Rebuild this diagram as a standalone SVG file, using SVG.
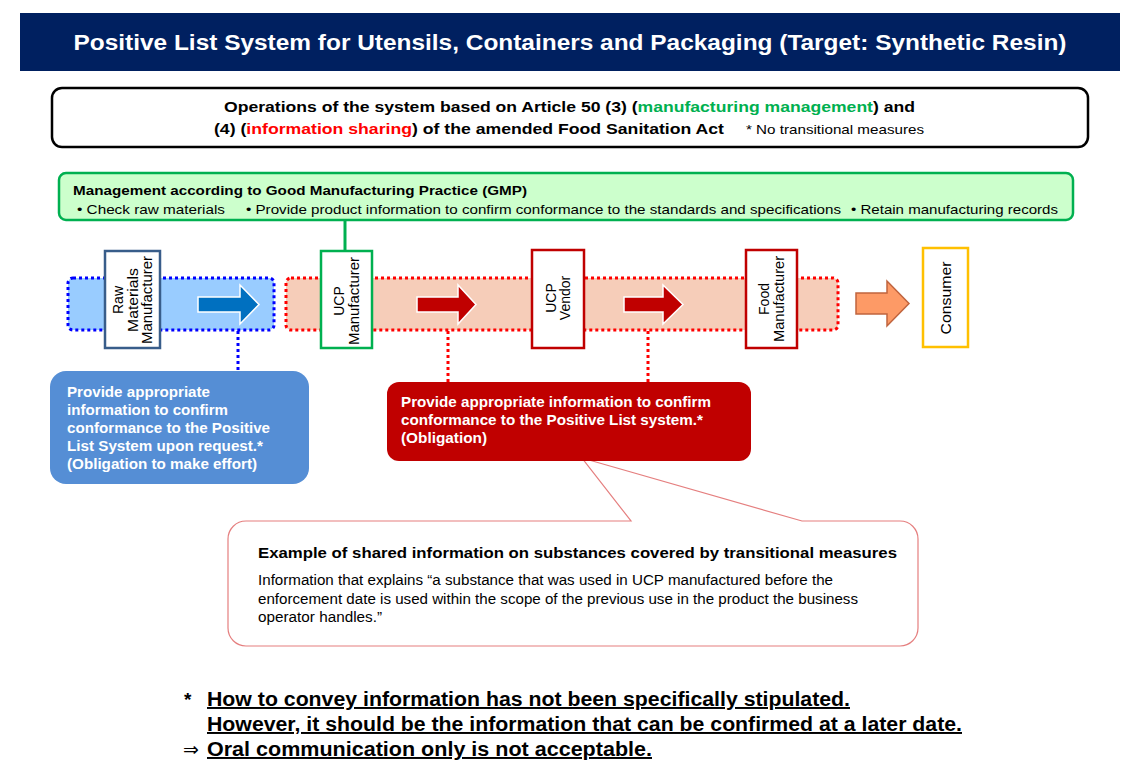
<svg xmlns="http://www.w3.org/2000/svg" width="1123" height="762" viewBox="0 0 1123 762">
<style>
text{font-family:"Liberation Sans",Arial,sans-serif;}
.b{font-weight:bold;}
.band{stroke-width:3;stroke-dasharray:3 3;}
.node{fill:#fff;stroke-width:2.5;}
.vt{font-size:14px;fill:#000;text-anchor:middle;}
.arr{stroke:#fff;stroke-width:1.5;}
.dot{stroke-width:3;stroke-dasharray:3 3;fill:none;}
.wt{fill:#fff;font-weight:bold;font-size:14px;}
.foot{font-weight:bold;font-size:19.5px;text-decoration:underline;fill:#000;}
</style>
<rect width="1123" height="762" fill="#fff"/>

<g id="title">
<rect x="20" y="13" width="1100" height="58" fill="#002060"/>
<text x="570" y="50" text-anchor="middle" class="b" font-size="21.5" fill="#fff" textLength="993" lengthAdjust="spacingAndGlyphs">Positive List System for Utensils, Containers and Packaging (Target: Synthetic Resin)</text>
</g>

<g id="article-box">
<rect x="52" y="88" width="1036" height="59" rx="10" fill="#fff" stroke="#000" stroke-width="2.5"/>
<text x="224" y="112" class="b" font-size="15" fill="#000" textLength="691" lengthAdjust="spacingAndGlyphs">Operations of the system based on Article 50 (3) (<tspan fill="#00b050">manufacturing management</tspan>) and</text>
<text x="214" y="134" class="b" font-size="15" fill="#000" textLength="510" lengthAdjust="spacingAndGlyphs">(4) (<tspan fill="#ff0000">information sharing</tspan>) of the amended Food Sanitation Act</text>
<text x="746" y="134" font-size="13" fill="#000" textLength="178" lengthAdjust="spacingAndGlyphs">* No transitional measures</text>
</g>

<g id="gmp-box">
<rect x="59" y="173" width="1014" height="47" rx="7" fill="#ccffcc" stroke="#00b050" stroke-width="2.5"/>
<text x="73" y="195" class="b" font-size="13.5" fill="#000" textLength="454" lengthAdjust="spacingAndGlyphs">Management according to Good Manufacturing Practice (GMP)</text>
<text x="77" y="214" font-size="13.5" fill="#000" textLength="148" lengthAdjust="spacingAndGlyphs">• Check raw materials</text>
<text x="246" y="214" font-size="13.5" fill="#000" textLength="595" lengthAdjust="spacingAndGlyphs">• Provide product information to confirm conformance to the standards and specifications</text>
<text x="851" y="214" font-size="13.5" fill="#000" textLength="207" lengthAdjust="spacingAndGlyphs">• Retain manufacturing records</text>
</g>

<g id="bands">
<rect x="68" y="278" width="206" height="52" rx="5" fill="#99ccff" stroke="#0000ff" class="band"/>
<rect x="286" y="278" width="552" height="52" rx="5" fill="#f6cdb9" stroke="#ff0000" class="band"/>
</g>

<g id="connectors">
<line x1="345" y1="220" x2="345" y2="252" stroke="#00b050" stroke-width="3"/>
<line x1="238" y1="331" x2="238" y2="371" stroke="#0000ff" class="dot"/>
<line x1="448" y1="331" x2="448" y2="382" stroke="#ff0000" class="dot"/>
<line x1="648" y1="331" x2="648" y2="382" stroke="#ff0000" class="dot"/>
<path class="arr" fill="#0070c0" d="M198,297 L240,297 L240,285 L259,304.5 L240,324 L240,312 L198,312 Z"/>
<path class="arr" fill="#c00000" d="M417,297 L458,297 L458,285 L476,304.5 L458,324 L458,312 L417,312 Z"/>
<path class="arr" fill="#c00000" d="M624,297 L663,297 L663,285 L683,304.5 L663,324 L663,312 L624,312 Z"/>
<path fill="#fd9a66" stroke="#c0643e" stroke-width="1.5" d="M856,293 L887,293 L887,281 L909,303.5 L887,326 L887,314 L856,314 Z"/>
</g>

<g id="raw-materials">
<rect x="105" y="251" width="55" height="97" class="node" stroke="#385d8a"/>
<g transform="translate(132.5,300) rotate(-90)">
<text class="vt" x="0" y="-9.5">Raw</text>
<text class="vt" x="0" y="5" textLength="64" lengthAdjust="spacingAndGlyphs">Materials</text>
<text class="vt" x="0" y="19.5" textLength="88" lengthAdjust="spacingAndGlyphs">Manufacturer</text>
</g>
</g>

<g id="ucp-manufacturer">
<rect x="321" y="251" width="51" height="97" class="node" stroke="#00b050"/>
<g transform="translate(346.5,301) rotate(-90)">
<text class="vt" x="0" y="-2.5">UCP</text>
<text class="vt" x="0" y="12" textLength="88" lengthAdjust="spacingAndGlyphs">Manufacturer</text>
</g>
</g>

<g id="ucp-vendor">
<rect x="532" y="250" width="52" height="98" class="node" stroke="#c00000"/>
<g transform="translate(558,298) rotate(-90)">
<text class="vt" x="0" y="-2.5">UCP</text>
<text class="vt" x="0" y="12">Vendor</text>
</g>
</g>

<g id="food-manufacturer">
<rect x="746" y="250" width="51" height="98" class="node" stroke="#c00000"/>
<g transform="translate(771.5,299) rotate(-90)">
<text class="vt" x="0" y="-2.5">Food</text>
<text class="vt" x="0" y="12" textLength="86" lengthAdjust="spacingAndGlyphs">Manufacturer</text>
</g>
</g>

<g id="consumer">
<rect x="923" y="248" width="45" height="99" class="node" stroke="#ffc000"/>
<g transform="translate(945.5,298) rotate(-90)">
<text class="vt" x="0" y="5.5" font-size="15" textLength="73" lengthAdjust="spacingAndGlyphs">Consumer</text>
</g>
</g>

<g id="blue-callout">
<rect x="50" y="371" width="259" height="113" rx="16" fill="#558ed5"/>
<text class="wt" x="67" y="397" textLength="143" lengthAdjust="spacingAndGlyphs">Provide appropriate</text>
<text class="wt" x="67" y="415" textLength="161" lengthAdjust="spacingAndGlyphs">information to confirm</text>
<text class="wt" x="67" y="433" textLength="203" lengthAdjust="spacingAndGlyphs">conformance to the Positive</text>
<text class="wt" x="67" y="451" textLength="196" lengthAdjust="spacingAndGlyphs">List System upon request.*</text>
<text class="wt" x="67" y="469" textLength="190" lengthAdjust="spacingAndGlyphs">(Obligation to make effort)</text>
</g>

<g id="example-callout">
<path d="M246,521 L631,521 L582,458 L802,521 L900,521 A18,18 0 0 1 918,539 L918,628 A18,18 0 0 1 900,646 L246,646 A18,18 0 0 1 228,628 L228,539 A18,18 0 0 1 246,521 Z" fill="#fff" stroke="#e57f7f" stroke-width="1.2"/>
<text x="258" y="558" class="b" font-size="15.5" fill="#000" textLength="639" lengthAdjust="spacingAndGlyphs">Example of shared information on substances covered by transitional measures</text>
<text x="258" y="585" font-size="14" fill="#000" textLength="575" lengthAdjust="spacingAndGlyphs">Information that explains “a substance that was used in UCP manufactured before the</text>
<text x="258" y="604" font-size="14" fill="#000" textLength="600" lengthAdjust="spacingAndGlyphs">enforcement date is used within the scope of the previous use in the product the business</text>
<text x="258" y="622" font-size="14" fill="#000" textLength="124" lengthAdjust="spacingAndGlyphs">operator handles.”</text>
</g>

<g id="red-callout">
<rect x="387" y="382" width="364" height="79" rx="12" fill="#c00000"/>
<text class="wt" x="401" y="407" textLength="310" lengthAdjust="spacingAndGlyphs">Provide appropriate information to confirm</text>
<text class="wt" x="401" y="425" textLength="302" lengthAdjust="spacingAndGlyphs">conformance to the Positive List system.*</text>
<text class="wt" x="401" y="443" textLength="86" lengthAdjust="spacingAndGlyphs">(Obligation)</text>
</g>

<g id="footnotes">
<text x="184" y="706" class="b" font-size="19" fill="#000">*</text>
<text x="207" y="706" class="foot" textLength="643" lengthAdjust="spacingAndGlyphs">How to convey information has not been specifically stipulated.</text>
<text x="207" y="731" class="foot" textLength="755" lengthAdjust="spacingAndGlyphs">However, it should be the information that can be confirmed at a later date.</text>
<text x="183" y="756" font-size="19" fill="#000" font-family="DejaVu Sans, sans-serif">⇒</text>
<text x="207" y="756" class="foot" textLength="445" lengthAdjust="spacingAndGlyphs"> Oral communication only is not acceptable.</text>
</g>
</svg>
